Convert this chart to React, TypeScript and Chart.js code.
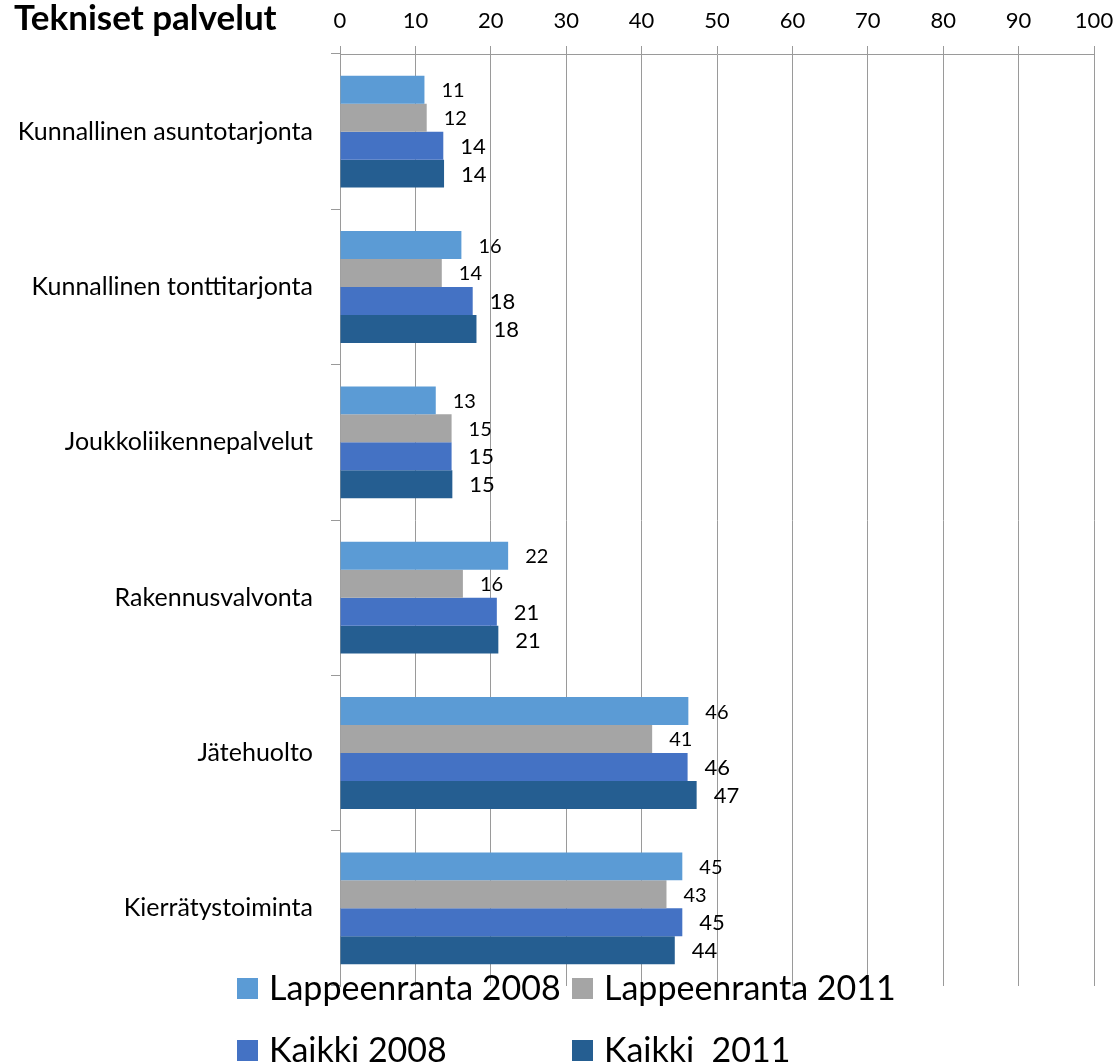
import React, { useEffect, useRef } from "react";
import { Chart, registerables } from "chart.js";

Chart.register(...registerables);

const TITLE = "Tekniset palvelut";
const categories = [
  "Kunnallinen asuntotarjonta",
  "Kunnallinen tonttitarjonta",
  "Joukkoliikennepalvelut",
  "Rakennusvalvonta",
  "Jätehuolto",
  "Kierrätystoiminta",
];
const seriesNames = ["Lappeenranta 2008", "Lappeenranta 2011", "Kaikki 2008", "Kaikki  2011"];
const lappeenranta2008 = [11.2, 16.1, 12.7, 22.3, 46.2, 45.4];
const lappeenranta2011 = [11.5, 13.5, 14.8, 16.3, 41.4, 43.3];
const kaikki2008 = [13.7, 17.6, 14.8, 20.8, 46.1, 45.4];
const kaikki2011 = [13.8, 18.1, 14.9, 21.0, 47.3, 44.4];
const seriesColors = ["#5B9BD5", "#A5A5A5", "#4472C4", "#255E91"];
const xTicks = [0, 10, 20, 30, 40, 50, 60, 70, 80, 90, 100];

const FONT = "Lato, Carlito, 'Open Sans', sans-serif";

const extrasPlugin = {
  id: "extras",
  afterDatasetsDraw(chart: any) {
    const ctx = chart.ctx;
    ctx.save();
    ctx.fillStyle = "#000";
    ctx.textAlign = "left";
    ctx.textBaseline = "middle";
    chart.data.datasets.forEach((ds: any, di: number) => {
      const meta = chart.getDatasetMeta(di);
      ctx.font = `${di < 2 ? 20 : 22}px ${FONT}`;
      meta.data.forEach((el: any, i: number) => {
        const v = ds.data[i];
        ctx.fillText(String(Math.round(v)), el.x + 17, el.y + 1);
      });
    });
    ctx.restore();
  },
  afterDraw(chart: any) {
    const ctx = chart.ctx;
    ctx.save();
    // title
    ctx.fillStyle = "#000";
    ctx.textAlign = "left";
    ctx.textBaseline = "alphabetic";
    ctx.font = `bold 35px ${FONT}`;
    ctx.fillText(TITLE, 14, 30);
    // legend
    const cols = [237, 572];
    const rows = [988, 1050];
    ctx.font = `34px ${FONT}`;
    ctx.textBaseline = "middle";
    chart.data.datasets.forEach((ds: any, di: number) => {
      const cx = cols[di % 2];
      const cy = rows[Math.floor(di / 2)];
      ctx.fillStyle = ds.backgroundColor;
      ctx.fillRect(cx, cy - 10, 21, 21);
      ctx.fillStyle = "#000";
      ctx.fillText(ds.label, cx + 32, cy + 1);
    });
    ctx.restore();
  },
};

export default function App() {
  const ref = useRef<HTMLCanvasElement>(null);
  useEffect(() => {
    if (!ref.current) return;
    const values = [lappeenranta2008, lappeenranta2011, kaikki2008, kaikki2011];
    const chart = new Chart(ref.current, {
      type: "bar",
      data: {
        labels: categories,
        datasets: values.map((d, i) => ({
          label: seriesNames[i],
          data: d,
          backgroundColor: seriesColors[i],
          borderWidth: 0,
          categoryPercentage: 0.72,
          barPercentage: 1.0,
        })),
      },
      options: {
        indexAxis: "y",
        animation: false,
        responsive: false,
        layout: { padding: { left: 0, top: 0, right: 26, bottom: 77 } },
        plugins: {
          legend: { display: false },
          title: { display: false },
          tooltip: { enabled: false },
        },
        scales: {
          x: {
            position: "top",
            min: 0,
            max: 100,
            afterBuildTicks: (s: any) => {
              s.ticks = xTicks.map((v) => ({ value: v }));
            },
            afterFit: (s: any) => {
              s.height = 54;
              s.paddingLeft = 0;
              s.paddingRight = 0;
            },
            ticks: {
              color: "#000",
              font: { family: FONT, size: 22 },
              padding: 12,
              maxRotation: 0,
              autoSkip: false,
            },
            grid: {
              color: "#9A9A9A",
              lineWidth: 1,
              tickLength: 8,
              drawTicks: true,
            },
            border: { color: "#9A9A9A", width: 1 },
          },
          y: {
            afterFit: (s: any) => {
              s.width = 340;
              s.paddingTop = 0;
              s.paddingBottom = 0;
            },
            ticks: {
              color: "#000",
              font: { family: FONT, size: 25 },
              padding: 18,
              autoSkip: false,
            },
            grid: {
              drawOnChartArea: false,
              drawTicks: true,
              tickLength: 9,
              color: "#9A9A9A",
              offset: true,
            },
            border: { color: "#9A9A9A", width: 1 },
          },
        },
      },
      plugins: [extrasPlugin],
    });
    return () => chart.destroy();
  }, []);
  return (
    <div style={{ position: "absolute", left: 0, top: 0, width: 1120, height: 1063, background: "#fff" }}>
      <canvas ref={ref} width={1120} height={1063} />
    </div>
  );
}
